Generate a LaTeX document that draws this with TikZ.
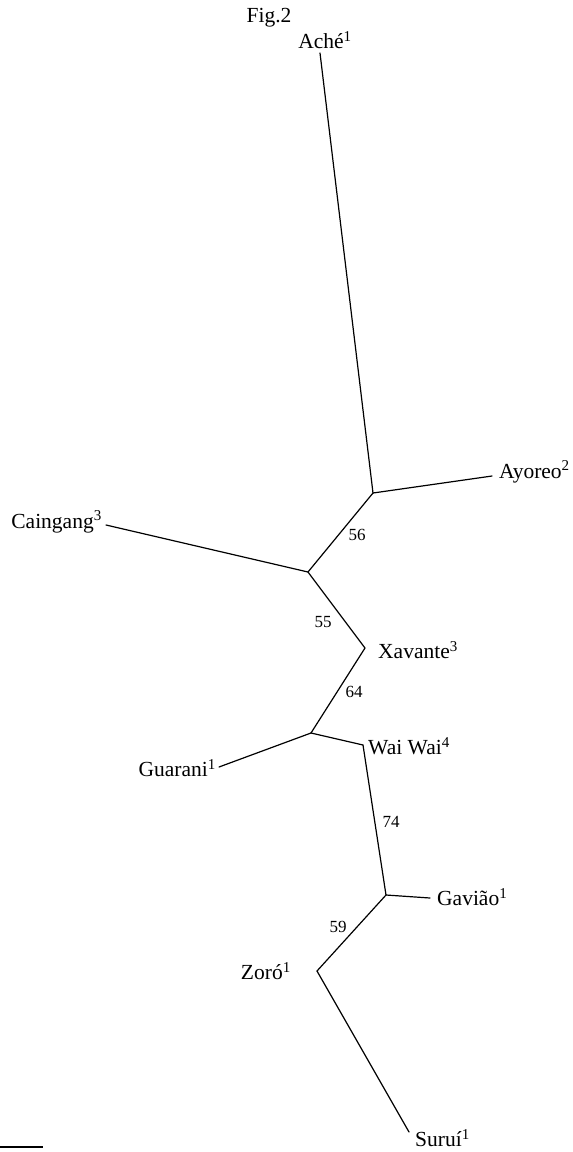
\documentclass[tikz,border=0pt]{standalone}
\usepackage{fontspec}
\setmainfont{Liberation Serif}
\usetikzlibrary{positioning}

\begin{document}
\begin{tikzpicture}[x=1pt, y=-1pt,
    br/.style={line width=1.2pt, line cap=round},
    taxon/.style={inner sep=0pt, font=\fontsize{21.5}{23}\selectfont},
    boot/.style={inner sep=0pt, font=\fontsize{17}{19}\selectfont}]
    \useasboundingbox (0,0) rectangle (573,1152);
    % tips and inner nodes
    \coordinate (ache) at (320,53);
    \coordinate (ayo)  at (492,476);
    \coordinate (cai)  at (106,525);
    \coordinate (gua)  at (219,767);
    \coordinate (gav)  at (430,898);
    \coordinate (sur)  at (409,1132);
    \coordinate (n1) at (373,493);
    \coordinate (n2) at (308,572);
    \coordinate (xav) at (365,648);
    \coordinate (n3) at (311,733);
    \coordinate (wai) at (363,745);
    \coordinate (n4) at (386,895);
    \coordinate (zor) at (317,971);
    \foreach \a/\b in {ache/n1, ayo/n1, n1/n2, cai/n2, n2/xav, xav/n3, gua/n3,
                       n3/wai, wai/n4, gav/n4, n4/zor, zor/sur}
      \draw[br] (\a)--(\b);

    \node[taxon] (fig) at (269,18) {Fig.2};
    \node[taxon] (lache) at (325,40) {Ach\'e\textsuperscript{1}};
    \node[taxon, anchor=west] (layo) at (499,472) {Ayoreo\textsuperscript{2}};
    \node[taxon, anchor=east] (lcai) at (102,522) {Caingang\textsuperscript{3}};
    \node[taxon, anchor=west] (lxav) at (378,650) {Xavante\textsuperscript{3}};
    \node[taxon, anchor=west] (lwai) at (368,746) {Wai Wai\textsuperscript{4}};
    \node[taxon, anchor=east] (lgua) at (216,768) {Guarani\textsuperscript{1}};
    \node[taxon, anchor=west] (lgav) at (437,897) {Gavi\~ao\textsuperscript{1}};
    \node[taxon, anchor=east] (lzor) at (291,971) {Zor\'o\textsuperscript{1}};
    \node[taxon, anchor=west] (lsur) at (415,1138) {Suru\'i\textsuperscript{1}};

    \node[boot] (b56) at (357,535) {56};
    \node[boot] (b55) at (323,622) {55};
    \node[boot] (b64) at (354,692) {64};
    \node[boot] (b74) at (391,822) {74};
    \node[boot] (b59) at (338,927) {59};

    % scale bar
    \coordinate (s0) at (0,1147);
    \coordinate (s1) at (43,1147);
    \draw[line width=1.3pt] (s0)--(s1);
  \end{tikzpicture}
\end{document}
